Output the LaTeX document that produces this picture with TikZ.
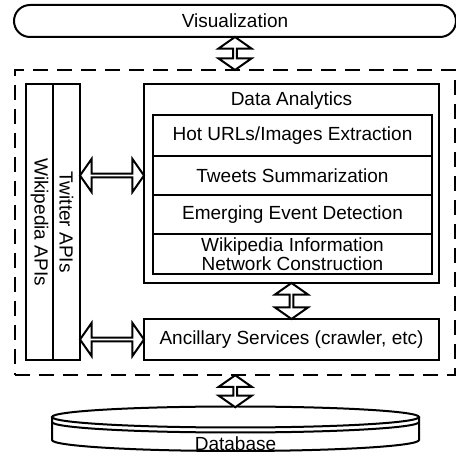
\documentclass[tikz,border=0pt]{standalone}
\usepackage{fontspec}
\setmainfont{Liberation Sans}
\usetikzlibrary{shapes.arrows}

\tikzset{
  box/.style={draw, line width=2pt, inner sep=0pt, align=center},
  dblarrow/.style={double arrow, draw, fill=white, line width=2pt, inner sep=0pt,
    minimum width=33pt, double arrow head extend=8pt, double arrow tip angle=110},
}

\begin{document}
\begin{tikzpicture}[x=1pt,y=-1pt,font=\fontsize{19}{19.5}\selectfont]
            \useasboundingbox (0,0) rectangle (456,454);
            % top and frame
            \node[box, rounded corners=16pt, minimum width=442pt, minimum height=32pt] (vis) at (235,21) {Visualization};
            \node[draw, line width=2pt, dash pattern=on 15pt off 9pt, minimum width=440pt, minimum height=305pt] (frame) at (235,222.5) {};
            % API columns
            \node[box, rotate=-90, minimum width=276pt, minimum height=27pt] (wiki) at (39.5,222) {Wikipedia APIs};
            \node[box, rotate=-90, minimum width=276pt, minimum height=27pt] (twit) at (66.5,222) {Twitter APIs};
            % analytics
            \node[box, minimum width=295pt, minimum height=199pt] (da) at (291.5,183.5) {};
            \node (datitle) at (291.5,101) {Data Analytics};
            \node[box, minimum width=279pt, minimum height=41pt] (hot) at (292.5,135.5) {Hot URLs/Images Extraction};
            \node[box, minimum width=279pt, minimum height=39pt] (summ) at (292.5,175.5) {Tweets Summarization};
            \node[box, minimum width=279pt, minimum height=39pt] (event) at (292.5,214.5) {Emerging Event Detection};
            \node[box, minimum width=279pt, minimum height=40pt] (wikinet) at (292.5,254) {Wikipedia Information\\Network Construction};
            \node[box, minimum width=295pt, minimum height=41pt] (anc) at (291.5,339.5) {Ancillary Services (crawler, etc)};
            % database
            \coordinate (dbtop) at (235.5,406.5);
            \draw[line width=2pt, fill=white] (52,417) -- (52,440) arc[start angle=180, end angle=360, x radius=183.5pt, y radius=11pt] -- (419,417);
            \draw[line width=2pt, fill=white] (235.5,417) ellipse[x radius=183.5pt, y radius=10.5pt];
            \draw[line width=2pt] (52,422) arc[start angle=180, end angle=360, x radius=183.5pt, y radius=10.5pt];
            \node (db) at (235.5,444) {Database};
            % block arrows
            \path (vis.south) -- (frame.north) node[midway, dblarrow, rotate=90, minimum height=33pt] (a1) {};
            \path (twit.north |- summ) -- (da.west |- summ) node[midway, dblarrow, minimum height=64pt] (a2) {};
            \path (twit.north |- anc) -- (anc.west) node[midway, dblarrow, minimum height=64pt] (a3) {};
            \path (da.south) -- (anc.north) node[midway, dblarrow, rotate=90, minimum height=36pt] (a4) {};
            \path (frame.south) -- (dbtop) node[midway, dblarrow, rotate=90, minimum height=32pt] (a5) {};
        \end{tikzpicture}
\end{document}
